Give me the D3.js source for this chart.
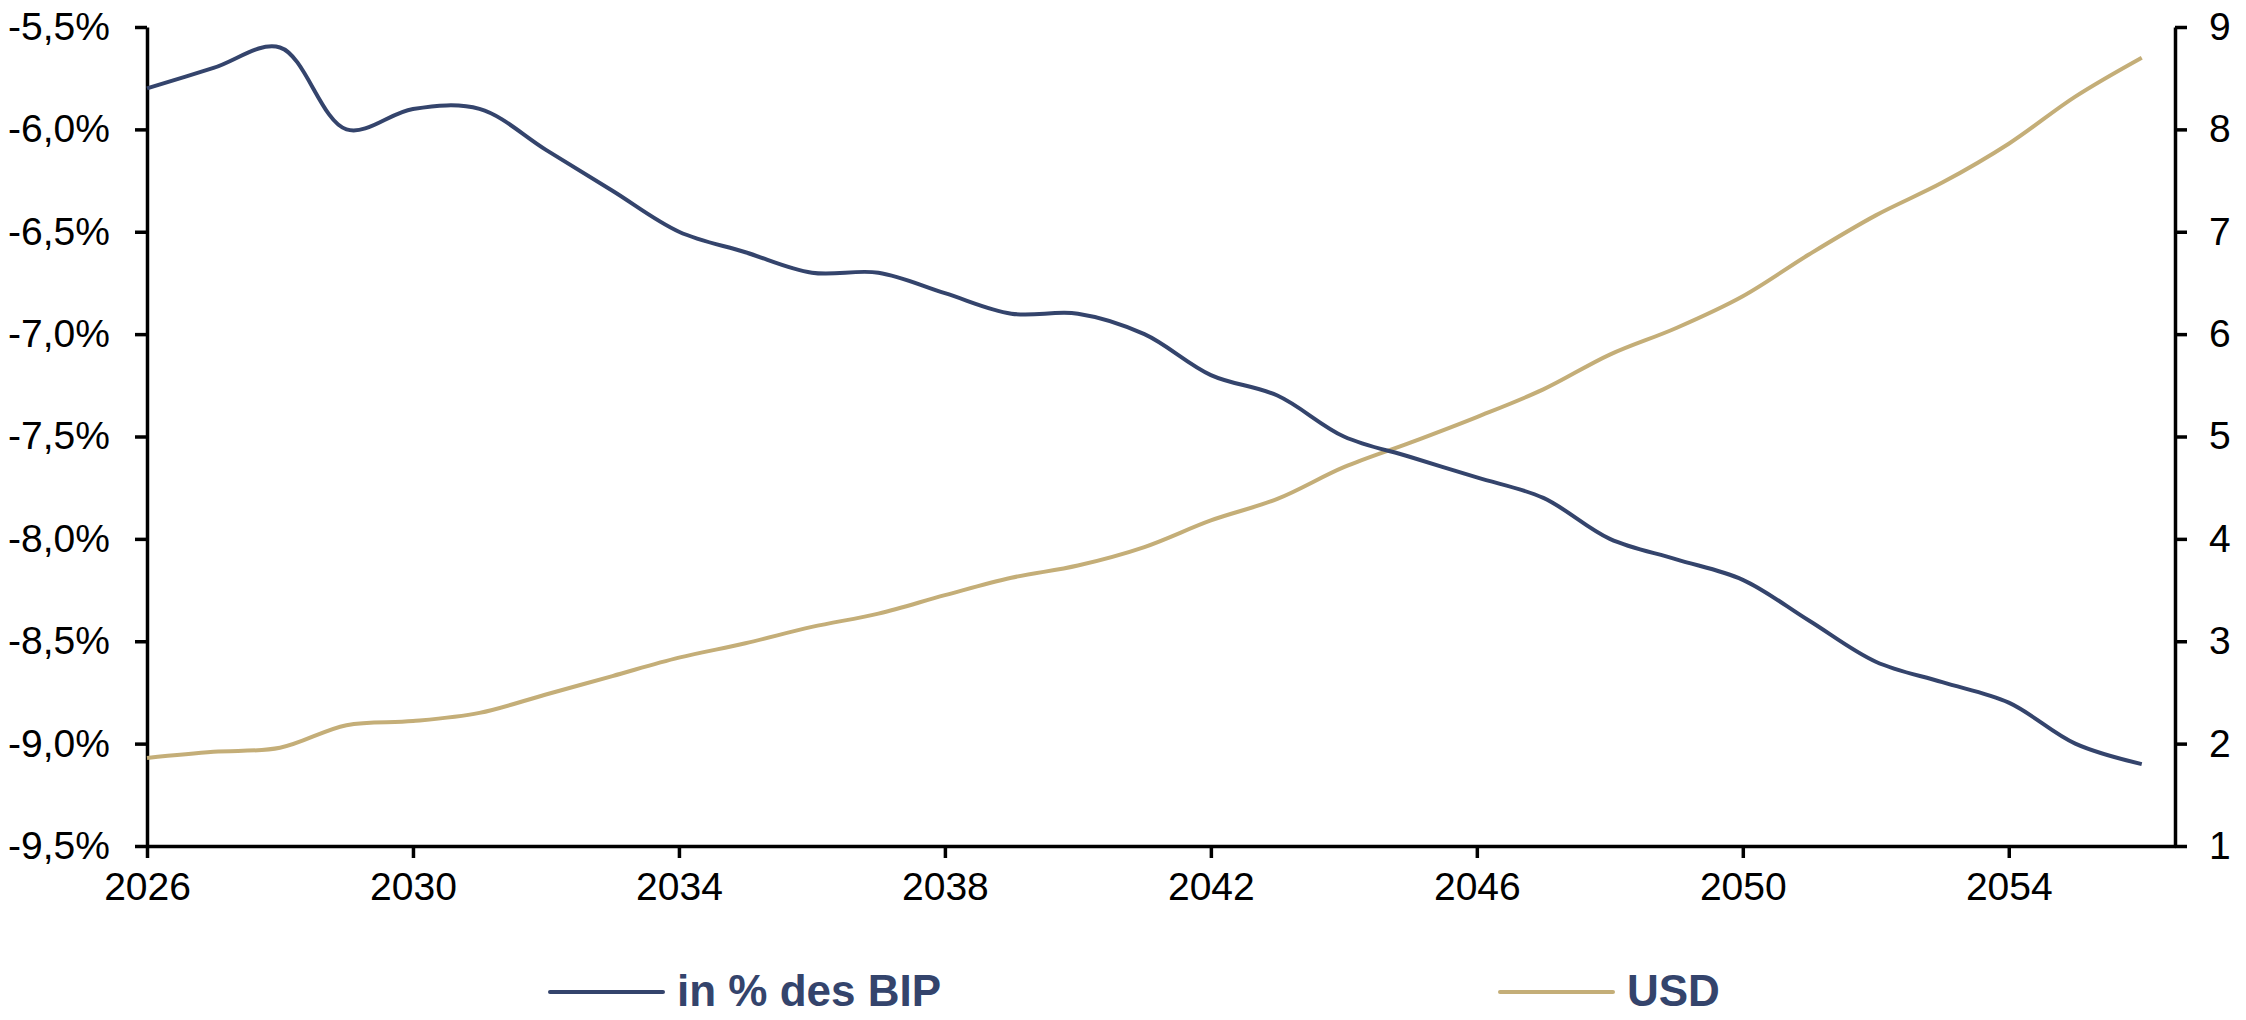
<!DOCTYPE html>
<html>
<head>
<meta charset="utf-8">
<script src="https://cdn.jsdelivr.net/npm/d3@7"></script>
<style>
  body { margin: 0; background: #fff; }
  svg { display: block; font-family: "Liberation Sans", Arial, sans-serif; }
</style>
</head>
<body>
<script>
// years on the x axis
var years = d3.range(2026, 2057)

// left axis series: in % des BIP
var pctBip = [-5.8, -5.7, -5.6, -6.0, -5.9, -5.9, -6.1, -6.3, -6.5, -6.6,
    -6.7, -6.7, -6.8, -6.9, -6.9, -7.0, -7.2, -7.3, -7.5, -7.6,
    -7.7, -7.8, -8.0, -8.1, -8.2, -8.4, -8.6, -8.7, -8.8, -9.0, -9.1]

// right axis series: USD
var usd = [1.86, 1.92, 1.96, 2.18, 2.22, 2.3, 2.48, 2.66, 2.84, 2.98,
    3.14, 3.27, 3.45, 3.62, 3.74, 3.92, 4.18, 4.39, 4.7, 4.94,
    5.19, 5.46, 5.8, 6.06, 6.37, 6.78, 7.16, 7.48, 7.86, 8.32, 8.7]

var xTicks = [2026, 2030, 2034, 2038, 2042, 2046, 2050, 2054]
var leftTicks = [-5.5, -6.0, -6.5, -7.0, -7.5, -8.0, -8.5, -9.0, -9.5]
var rightTicks = [1, 2, 3, 4, 5, 6, 7, 8, 9]

var seriesNames = ["in % des BIP", "USD"]

var w = 2246
var h = 1020
var plotL = 147, plotR = 2175, plotT = 27, plotB = 846

var navy = "#34446c"
var gold = "#c4ae78"

var svg = d3.select("body")
    .append("svg")
    .attr("width", w)
    .attr("height", h)

var xScale = d3.scaleLinear()
    .domain([2026, 2056.5])
    .range([plotL, plotR])

var yLeft = d3.scaleLinear()
    .domain([-9.5, -5.5])
    .range([plotB, plotT])

var yRight = d3.scaleLinear()
    .domain([1, 9])
    .range([plotB, plotT])

var fmt = function(d) { return d.toFixed(1).replace(".", ",") + "%" }

// axes
svg.append("g")
    .attr("transform", "translate(0," + plotB + ")")
    .call(d3.axisBottom(xScale).tickValues(xTicks).tickFormat(d3.format("d")).tickSizeInner(12).tickSizeOuter(0).tickPadding(14))

svg.append("g")
    .attr("transform", "translate(" + plotL + ",0)")
    .call(d3.axisLeft(yLeft).tickValues(leftTicks).tickFormat(fmt).tickSizeInner(12).tickSizeOuter(0).tickPadding(25))

svg.append("g")
    .attr("transform", "translate(" + plotR + ",0)")
    .call(d3.axisRight(yRight).tickValues(rightTicks).tickFormat(d3.format("d")).tickSizeInner(12).tickSizeOuter(0).tickPadding(22))

svg.selectAll(".domain, .tick line")
    .attr("stroke", "#000")
    .attr("stroke-width", 3.5)

svg.selectAll(".tick text")
    .attr("fill", "#000")
    .style("font-size", "39px")

// lines
var lineL = d3.line()
    .x((d, i) => xScale(years[i]))
    .y(d => yLeft(d))
    .curve(d3.curveCatmullRom.alpha(0.5))

var lineR = d3.line()
    .x((d, i) => xScale(years[i]))
    .y(d => yRight(d))
    .curve(d3.curveCatmullRom.alpha(0.5))

svg.append("path")
    .datum(usd)
    .attr("d", lineR)
    .attr("fill", "none")
    .attr("stroke", gold)
    .attr("stroke-width", 4)

svg.append("path")
    .datum(pctBip)
    .attr("d", lineL)
    .attr("fill", "none")
    .attr("stroke", navy)
    .attr("stroke-width", 4)

// legend
var legendPos = [550, 1500]
var legendColors = [navy, gold]
var legend = svg.selectAll(".legend")
    .data(seriesNames)
    .enter()
    .append("g")
    .attr("class", "legend")
    .attr("transform", (d, i) => "translate(" + legendPos[i] + ",992)")

legend.append("line")
    .attr("x1", 0).attr("x2", 113)
    .attr("stroke", (d, i) => legendColors[i])
    .attr("stroke-width", 4)
    .attr("stroke-linecap", "round")

legend.append("text")
    .attr("x", 127)
    .attr("y", 14)
    .attr("fill", navy)
    .style("font-size", "44px")
    .style("font-weight", "bold")
    .text(d => d)
</script>
</body>
</html>
